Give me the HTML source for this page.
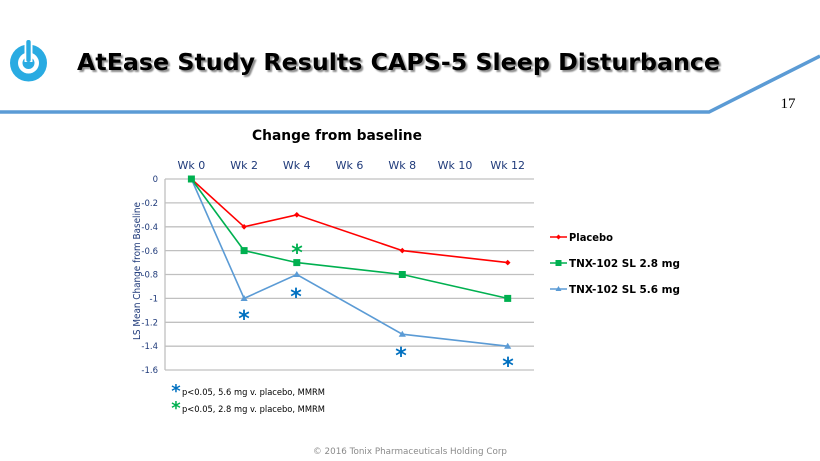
<!DOCTYPE html>
<html>
<head>
<meta charset="utf-8">
<style>
html,body{margin:0;padding:0;background:#fff;}
body{width:820px;height:461px;overflow:hidden;}
svg{display:block;}
</style>
</head>
<body>
<svg width="820" height="461" viewBox="0 0 820 461" xmlns="http://www.w3.org/2000/svg">
  <defs>
    <filter id="sh" x="-5%" y="-20%" width="110%" height="150%">
      <feGaussianBlur in="SourceAlpha" stdDeviation="0.8"/>
      <feOffset dx="2" dy="2" result="o"/>
      <feComponentTransfer><feFuncA type="linear" slope="0.45"/></feComponentTransfer>
      <feMerge><feMergeNode/><feMergeNode in="SourceGraphic"/></feMerge>
    </filter>
  </defs>
  <rect width="820" height="461" fill="#fff"/>

  <!-- header line -->
  <polyline points="0,112 709,112 820,56" fill="none" stroke="#5b9bd5" stroke-width="3.5"/>

  <!-- logo -->
  <circle cx="28.5" cy="63" r="18.5" fill="#29abe2"/>
  <circle cx="28.5" cy="63" r="10.5" fill="#fff"/>
  <circle cx="28.5" cy="63" r="6" fill="#29abe2"/>
  <rect x="24.5" y="38" width="8" height="24" fill="#fff"/>
  <rect x="26.3" y="40" width="4.4" height="22" rx="2" fill="#29abe2"/>

  <!-- title -->
  <text x="77" y="70" font-family="DejaVu Sans, Verdana, sans-serif" font-weight="bold" font-size="23" fill="#000" textLength="643" lengthAdjust="spacingAndGlyphs" filter="url(#sh)">AtEase Study Results CAPS-5 Sleep Disturbance</text>

  <!-- page number -->
  <text x="788" y="108" font-family="Liberation Serif, serif" font-size="15" fill="#000" text-anchor="middle">17</text>

  <!-- chart title -->
  <text x="337" y="140" font-family="DejaVu Sans, Verdana, sans-serif" font-weight="bold" font-size="14" fill="#000" text-anchor="middle" textLength="170" lengthAdjust="spacingAndGlyphs">Change from baseline</text>

  <!-- category labels -->
  <g font-family="DejaVu Sans, Verdana, sans-serif" font-size="11" fill="#1f3a7a" text-anchor="middle">
    <text x="191.4" y="169">Wk 0</text>
    <text x="244.1" y="169">Wk 2</text>
    <text x="296.8" y="169">Wk 4</text>
    <text x="349.5" y="169">Wk 6</text>
    <text x="402.3" y="169">Wk 8</text>
    <text x="455" y="169">Wk 10</text>
    <text x="507.7" y="169">Wk 12</text>
  </g>

  <!-- gridlines -->
  <g stroke="#c0c0c0" stroke-width="1.3">
    <line x1="165" y1="179" x2="534" y2="179"/>
    <line x1="165" y1="202.9" x2="534" y2="202.9"/>
    <line x1="165" y1="226.8" x2="534" y2="226.8"/>
    <line x1="165" y1="250.6" x2="534" y2="250.6"/>
    <line x1="165" y1="274.5" x2="534" y2="274.5"/>
    <line x1="165" y1="298.4" x2="534" y2="298.4"/>
    <line x1="165" y1="322.3" x2="534" y2="322.3"/>
    <line x1="165" y1="346.2" x2="534" y2="346.2"/>
    <line x1="165" y1="370" x2="534" y2="370"/>
    <line x1="165" y1="179" x2="165" y2="370"/>
  </g>

  <!-- y tick labels -->
  <g font-family="DejaVu Sans, Verdana, sans-serif" font-size="8.5" fill="#1f3a7a" text-anchor="end">
    <text x="158" y="182">0</text>
    <text x="158" y="206">-0.2</text>
    <text x="158" y="230">-0.4</text>
    <text x="158" y="254">-0.6</text>
    <text x="158" y="277.5">-0.8</text>
    <text x="158" y="301.5">-1</text>
    <text x="158" y="325.5">-1.2</text>
    <text x="158" y="349">-1.4</text>
    <text x="158" y="373">-1.6</text>
  </g>

  <!-- y axis title -->
  <text transform="translate(140,271) rotate(-90)" font-family="DejaVu Sans, Verdana, sans-serif" font-size="10" fill="#1f3a7a" text-anchor="middle" textLength="138" lengthAdjust="spacingAndGlyphs">LS Mean Change from Baseline</text>

  <!-- series 5.6 (blue) -->
  <polyline points="191.4,179 244.1,298.4 296.8,274.5 402.3,334.2 507.7,346.2" fill="none" stroke="#5b9bd5" stroke-width="1.6"/>
  <g fill="#5b9bd5">
    <polygon points="191.4,175.5 195,181.5 187.8,181.5"/>
    <polygon points="244.1,295 247.7,301 240.5,301"/>
    <polygon points="296.8,271 300.4,277 293.2,277"/>
    <polygon points="402.3,330.7 405.9,336.7 398.7,336.7"/>
    <polygon points="507.7,342.7 511.3,348.7 504.1,348.7"/>
  </g>

  <!-- series placebo (red) -->
  <polyline points="191.4,179 244.1,226.8 296.8,214.8 402.3,250.6 507.7,262.6" fill="none" stroke="#ff0000" stroke-width="1.6"/>
  <g fill="#ff0000">
    <polygon points="244.1,224 246.9,226.8 244.1,229.6 241.3,226.8"/>
    <polygon points="296.8,212 299.6,214.8 296.8,217.6 294,214.8"/>
    <polygon points="402.3,247.8 405.1,250.6 402.3,253.4 399.5,250.6"/>
    <polygon points="507.7,259.8 510.5,262.6 507.7,265.4 504.9,262.6"/>
  </g>

  <!-- series 2.8 (green) -->
  <polyline points="191.4,179 244.1,250.6 296.8,262.6 402.3,274.5 507.7,298.4" fill="none" stroke="#00b050" stroke-width="1.6"/>
  <g fill="#00b050">
    <rect x="187.9" y="175.5" width="7" height="7"/>
    <rect x="240.6" y="247.1" width="7" height="7"/>
    <rect x="293.3" y="259.1" width="7" height="7"/>
    <rect x="398.8" y="271" width="7" height="7"/>
    <rect x="504.2" y="294.9" width="7" height="7"/>
  </g>

  <!-- significance asterisks -->
  <g font-family="DejaVu Sans, sans-serif" font-weight="bold" font-size="22" text-anchor="middle">
    <text x="297" y="260" fill="#00b050">*</text>
    <text x="244" y="326" fill="#0070c0">*</text>
    <text x="296" y="304" fill="#0070c0">*</text>
    <text x="401" y="363" fill="#0070c0">*</text>
    <text x="508" y="373" fill="#0070c0">*</text>
  </g>

  <!-- legend -->
  <g stroke-width="1.6">
    <line x1="550" y1="237" x2="567" y2="237" stroke="#ff0000"/>
    <line x1="550" y1="263" x2="567" y2="263" stroke="#00b050"/>
    <line x1="550" y1="289" x2="567" y2="289" stroke="#5b9bd5"/>
  </g>
  <polygon points="558.5,234.5 561,237 558.5,239.5 556,237" fill="#ff0000"/>
  <rect x="555.5" y="260" width="6" height="6" fill="#00b050"/>
  <polygon points="558.5,286 561.5,291 555.5,291" fill="#5b9bd5"/>
  <g font-family="DejaVu Sans, Verdana, sans-serif" font-weight="bold" font-size="10.5" fill="#000">
    <text x="569" y="241" textLength="44" lengthAdjust="spacingAndGlyphs">Placebo</text>
    <text x="569" y="267" textLength="111" lengthAdjust="spacingAndGlyphs">TNX-102 SL 2.8 mg</text>
    <text x="569" y="293" textLength="111" lengthAdjust="spacingAndGlyphs">TNX-102 SL 5.6 mg</text>
  </g>

  <!-- footnotes -->
  <g font-family="DejaVu Sans, sans-serif" font-weight="bold" font-size="18">
    <text x="176" y="397" fill="#0070c0" text-anchor="middle">*</text>
    <text x="176" y="414" fill="#00b050" text-anchor="middle">*</text>
  </g>
  <g font-family="DejaVu Sans, Verdana, sans-serif" font-size="8.5" fill="#000">
    <text x="182" y="395" textLength="143" lengthAdjust="spacingAndGlyphs">p&lt;0.05, 5.6 mg v. placebo, MMRM</text>
    <text x="182" y="412" textLength="143" lengthAdjust="spacingAndGlyphs">p&lt;0.05, 2.8 mg v. placebo, MMRM</text>
  </g>

  <!-- footer -->
  <text x="410" y="454" font-family="DejaVu Sans, Verdana, sans-serif" font-size="9" fill="#8a8a8a" text-anchor="middle" textLength="194" lengthAdjust="spacingAndGlyphs">© 2016 Tonix Pharmaceuticals Holding Corp</text>
</svg>
</body>
</html>
